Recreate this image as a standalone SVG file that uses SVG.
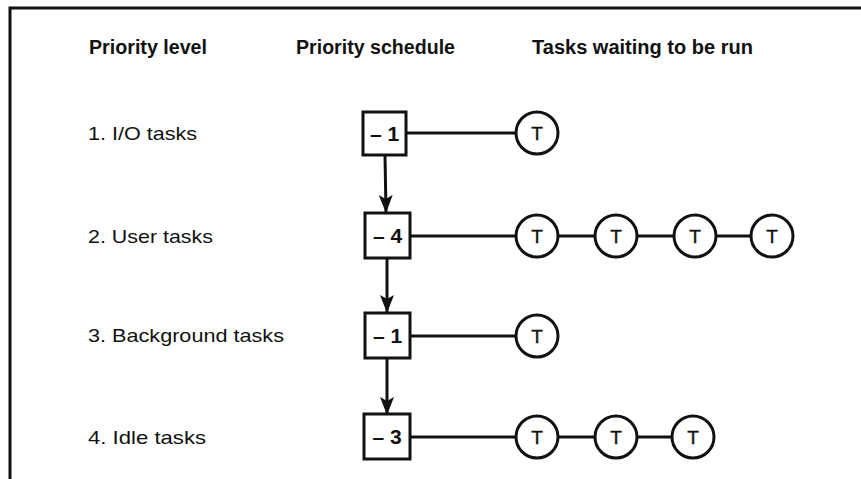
<svg xmlns="http://www.w3.org/2000/svg" width="861" height="479" viewBox="0 0 861 479">
<style>
.hdr{font-family:"Liberation Sans",Arial,sans-serif;font-weight:bold;font-size:20px;fill:#111}
.lbl{font-family:"Liberation Sans",Arial,sans-serif;font-size:19px;fill:#111}
.num{font-family:"Liberation Sans",Arial,sans-serif;font-weight:bold;font-size:21px;fill:#111;text-anchor:middle}
.t{font-family:"Liberation Sans",Arial,sans-serif;font-size:19px;fill:#111;text-anchor:middle;stroke:#111;stroke-width:0.4}
.box{fill:#fff;stroke:#111;stroke-width:3}
.circ{fill:#fff;stroke:#111;stroke-width:3}
.ln{stroke:#111;stroke-width:3;fill:none}
</style>
<defs>
<marker id="ah" viewBox="0 0 18 14" refX="17" refY="7" markerWidth="18" markerHeight="14" markerUnits="userSpaceOnUse" orient="auto">
<path d="M0,0 L18,7 L0,14 L4,7 Z" fill="#111"/>
</marker>
</defs>
<rect width="861" height="479" fill="#fff"/>
<path d="M10,479 L10,8 L861,8" class="ln"/>
<g id="headers">
<text class="hdr" x="89" y="54" textLength="118" lengthAdjust="spacingAndGlyphs">Priority level</text>
<text class="hdr" x="296" y="54" textLength="159" lengthAdjust="spacingAndGlyphs">Priority schedule</text>
<text class="hdr" x="532" y="54" textLength="221" lengthAdjust="spacingAndGlyphs">Tasks waiting to be run</text>
</g>
<g id="labels">
<text class="lbl" x="88" y="140" textLength="109" lengthAdjust="spacingAndGlyphs">1.  I/O tasks</text>
<text class="lbl" x="88" y="243" textLength="125" lengthAdjust="spacingAndGlyphs">2.  User tasks</text>
<text class="lbl" x="88" y="342" textLength="196" lengthAdjust="spacingAndGlyphs">3.  Background tasks</text>
<text class="lbl" x="88" y="444" textLength="118" lengthAdjust="spacingAndGlyphs">4.  Idle tasks</text>
</g>
<g id="connectors">
<line class="ln" x1="406" y1="133" x2="516" y2="133"/>
<line class="ln" x1="410" y1="236" x2="516" y2="236"/>
<line class="ln" x1="558" y1="236" x2="595" y2="236"/>
<line class="ln" x1="637" y1="236" x2="674" y2="236"/>
<line class="ln" x1="716" y1="236" x2="751" y2="236"/>
<line class="ln" x1="410" y1="336" x2="516" y2="336"/>
<line class="ln" x1="410" y1="437" x2="516" y2="437"/>
<line class="ln" x1="558" y1="437" x2="595" y2="437"/>
<line class="ln" x1="637" y1="437" x2="672" y2="437"/>
<line class="ln" x1="385" y1="155" x2="386" y2="212" marker-end="url(#ah)"/>
<line class="ln" x1="387" y1="258" x2="387" y2="312" marker-end="url(#ah)"/>
<line class="ln" x1="387" y1="358" x2="387" y2="414" marker-end="url(#ah)"/>
</g>
<g id="sched1"><rect class="box" x="363" y="112" width="43" height="43"/><text class="num" x="384.5" y="141">– 1</text></g>
<g id="sched2"><rect class="box" x="365" y="213" width="45" height="45"/><text class="num" x="387.5" y="243">– 4</text></g>
<g id="sched3"><rect class="box" x="365" y="313" width="45" height="45"/><text class="num" x="387.5" y="343">– 1</text></g>
<g id="sched4"><rect class="box" x="364" y="414" width="46" height="45"/><text class="num" x="387" y="444">– 3</text></g>
<g id="t1a"><circle class="circ" cx="537" cy="133" r="21"/><text class="t" x="537" y="140">T</text></g>
<g id="t2a"><circle class="circ" cx="537" cy="236" r="21"/><text class="t" x="537" y="243">T</text></g>
<g id="t2b"><circle class="circ" cx="616" cy="236" r="21"/><text class="t" x="616" y="243">T</text></g>
<g id="t2c"><circle class="circ" cx="695" cy="236" r="21"/><text class="t" x="695" y="243">T</text></g>
<g id="t2d"><circle class="circ" cx="772" cy="236" r="21"/><text class="t" x="772" y="243">T</text></g>
<g id="t3a"><circle class="circ" cx="537" cy="336" r="21"/><text class="t" x="537" y="343">T</text></g>
<g id="t4a"><circle class="circ" cx="537" cy="437" r="21"/><text class="t" x="537" y="444">T</text></g>
<g id="t4b"><circle class="circ" cx="616" cy="437" r="21"/><text class="t" x="616" y="444">T</text></g>
<g id="t4c"><circle class="circ" cx="693" cy="437" r="21"/><text class="t" x="693" y="444">T</text></g>
</svg>
